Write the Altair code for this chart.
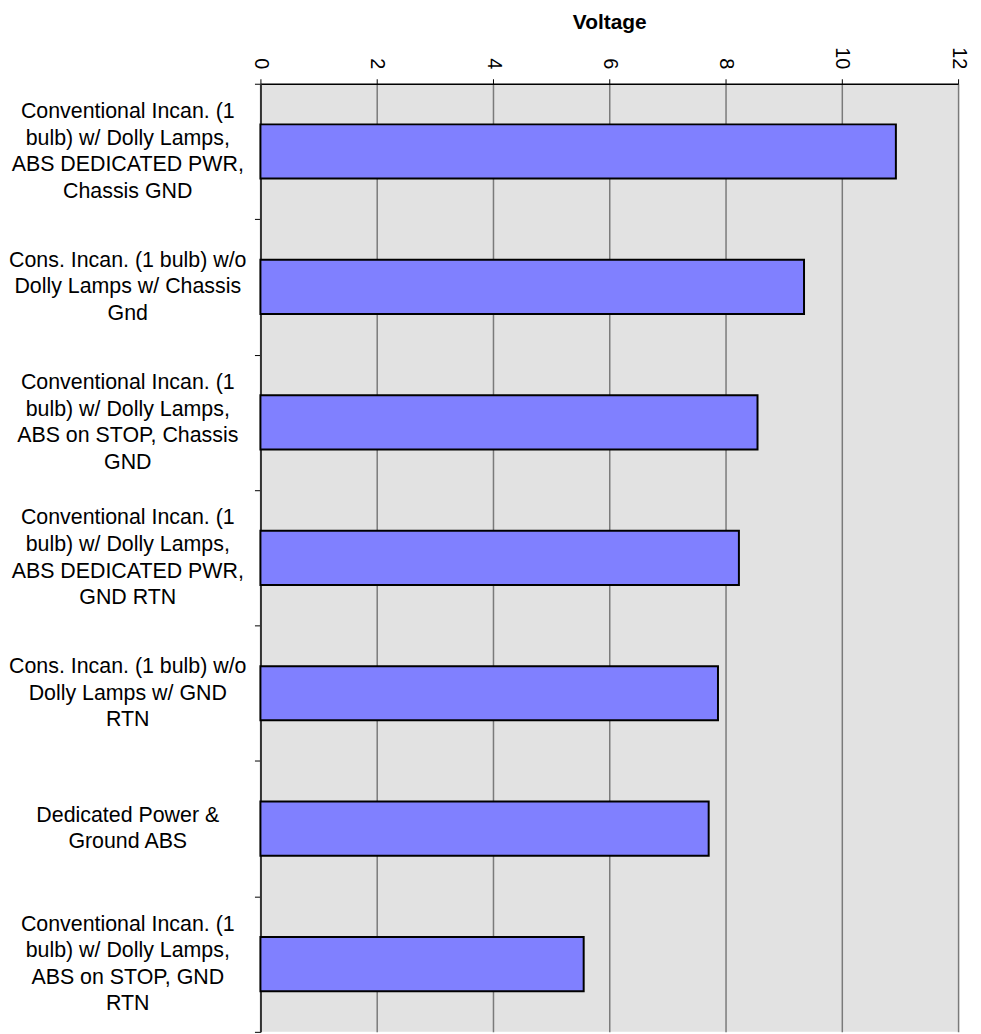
import altair as alt
import pandas as pd

categories = [
    "Conventional Incan. (1|bulb) w/ Dolly Lamps,|ABS DEDICATED PWR,|Chassis GND",
    "Cons. Incan. (1 bulb) w/o|Dolly Lamps w/ Chassis|Gnd",
    "Conventional Incan. (1|bulb) w/ Dolly Lamps,|ABS on STOP, Chassis|GND",
    "Conventional Incan. (1|bulb) w/ Dolly Lamps,|ABS DEDICATED PWR,|GND RTN",
    "Cons. Incan. (1 bulb) w/o|Dolly Lamps w/ GND|RTN",
    "Dedicated Power &|Ground ABS",
    "Conventional Incan. (1|bulb) w/ Dolly Lamps,|ABS on STOP, GND|RTN",
]
voltage = [10.93, 9.35, 8.55, 8.23, 7.87, 7.71, 5.56]
x_ticks = [0, 2, 4, 6, 8, 10, 12]

df = pd.DataFrame({"category": categories, "voltage": voltage})

FONT = "Arial, Liberation Sans, sans-serif"
LINE_H = 26.7

chart = (
    alt.Chart(df)
    .mark_bar(fill="#8080ff", stroke="#000000", strokeWidth=2,
              height=alt.RelativeBandSize(0.4))
    .encode(
        x=alt.X(
            "voltage:Q",
            scale=alt.Scale(domain=[0, 12], nice=False),
            axis=alt.Axis(
                orient="top",
                title="Voltage",
                titleFont=FONT,
                titleFontSize=21,
                titleFontWeight="bold",
                titleColor="#000000",
                titlePadding=14,
                values=x_ticks,
                labelAngle=90,
                labelAlign="right",
                labelBaseline="middle",
                labelFont=FONT,
                labelFontSize=20,
                labelColor="#000000",
                labelPadding=10,
                tickSize=5,
                tickColor="#000000",
                domainColor="#000000",
                domainWidth=1.5,
                grid=True,
                gridColor="#7a7a7a",
                gridWidth=1.5,
            ),
        ),
        y=alt.Y(
            "category:N",
            sort=None,
            scale=alt.Scale(paddingInner=0, paddingOuter=0),
            axis=alt.Axis(
                title=None,
                labelExpr="split(datum.label, '|')",
                labelAlign="center",
                labelBaseline="middle",
                labelFont=FONT,
                labelFontSize=21.5,
                labelLineHeight=LINE_H,
                labelColor="#000000",
                labelPadding=128,
                labelLimit=400,
                labelOffset=alt.ExprRef(
                    f"-(length(split(datum.value, '|')) - 1) * {LINE_H / 2}"
                ),
                tickBand="extent",
                tickSize=6,
                tickColor="#000000",
                domainColor="#333333",
                domainWidth=2,
                grid=False,
            ),
        ),
    )
    .properties(width=702, height=954, padding={"left": 0, "top": 0, "right": 5, "bottom": 5})
    .configure_view(fill="#e2e2e2", stroke=None)
)

chart.save("out.html", embed_options={"renderer": "svg", "actions": False})
